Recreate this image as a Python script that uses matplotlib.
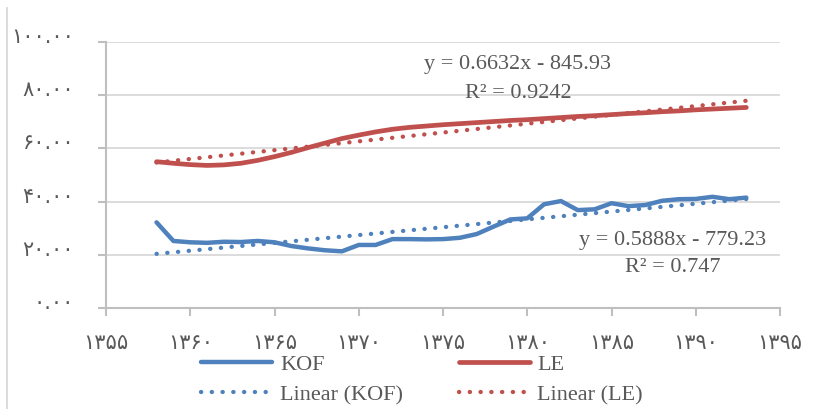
import matplotlib
matplotlib.use('Agg')
import matplotlib.pyplot as plt
from matplotlib.transforms import ScaledTranslation
from matplotlib.lines import Line2D
import numpy as np

# data
years = list(range(1358, 1394))
kof = [32.2, 25.2, 24.7, 24.5, 24.9, 24.8, 25.2, 24.7, 23.3, 22.4,
       21.7, 21.3, 23.7, 23.7, 25.9, 25.9, 25.8, 25.9, 26.4, 27.8,
       30.6, 33.3, 33.7, 39.0, 40.2, 36.8, 37.1, 39.4, 38.3, 38.7,
       40.3, 40.9, 41.0, 41.8, 40.9, 41.5]
le = [55.0, 54.4, 53.9, 53.6, 53.8, 54.4, 55.5, 56.9, 58.5, 60.3,
      62.0, 63.7, 65.0, 66.2, 67.2, 67.9, 68.4, 68.9, 69.3, 69.7,
      70.1, 70.5, 70.8, 71.2, 71.6, 72.0, 72.3, 72.7, 73.1, 73.4,
      73.8, 74.1, 74.5, 74.8, 75.1, 75.4]
kof_trend = [0.5888, -779.23]
le_trend = [0.6632, -845.93]

x_ticks = [1355, 1360, 1365, 1370, 1375, 1380, 1385, 1390, 1395]
x_tick_labels = ['۱۳۵۵', '۱۳۶۰', '۱۳۶۵', '۱۳۷۰', '۱۳۷۵', '۱۳۸۰', '۱۳۸۵', '۱۳۹۰', '۱۳۹۵']
y_ticks = [0, 20, 40, 60, 80, 100]
y_tick_labels = ['۰.۰۰', '۲۰.۰۰', '۴۰.۰۰', '۶۰.۰۰', '۸۰.۰۰', '۱۰۰.۰۰']

blue = '#4F81BD'
red = '#C0504D'
txt = '#595959'
dots = (0, (0.05, 2.45))

fig = plt.figure(figsize=(8.24, 4.09), dpi=100)
ax = fig.add_axes([106 / 824, 101 / 409, 674 / 824, 266 / 409])

yrs = np.array(years)
ax.plot(years, kof, color=blue, lw=3.2, solid_capstyle='round', label='KOF', zorder=4)
ax.plot(years, np.polyval(kof_trend, yrs), color=blue, lw=3.1, ls=dots,
        dash_capstyle='round', label='Linear (KOF)', zorder=3)
ax.plot(years, le, color=red, lw=3.4, solid_capstyle='round', label='LE', zorder=4)
ax.plot(years, np.polyval(le_trend, yrs), color=red, lw=3.1, ls=dots,
        dash_capstyle='round', label='Linear (LE)', zorder=3)

ax.set_xlim(1355, 1395)
ax.set_ylim(0, 100)
ax.set_xticks(x_ticks)
ax.set_xticklabels(x_tick_labels, fontsize=15, color=txt, family='DejaVu Sans')
ax.set_yticks(y_ticks)
ax.set_yticklabels(y_tick_labels, fontsize=15, color=txt, family='DejaVu Sans')
ax.grid(axis='y', color='#d9d9d9', lw=1.3, zorder=0)
ax.set_axisbelow(True)
for s in ['top', 'right']:
    ax.spines[s].set_visible(False)
for s in ['left', 'bottom']:
    ax.spines[s].set_color('#bfbfbf')
    ax.spines[s].set_linewidth(1.5)
ax.tick_params(axis='x', direction='out', length=6, width=1.5, color='#bfbfbf', pad=12)
ax.tick_params(axis='y', direction='out', length=6, width=1.5, color='#bfbfbf', pad=17)

off = ScaledTranslation(0, 5 / 72, fig.dpi_scale_trans)
for t in ax.yaxis.get_major_ticks():
    t.label1.set_transform(t.label1.get_transform() + off)

ax.annotate('y = 0.6632x - 845.93\nR² = 0.9242', xy=(518 / 824, 1 - 79 / 409),
            xycoords='figure fraction', ha='center', va='center', fontsize=16,
            family='Liberation Serif', color=txt, linespacing=1.75)
ax.annotate('y = 0.5888x - 779.23\nR² = 0.747', xy=(673 / 824, 1 - 254 / 409),
            xycoords='figure fraction', ha='center', va='center', fontsize=16,
            family='Liberation Serif', color=txt, linespacing=1.6)

fig.legend(loc='upper left', bbox_to_anchor=(190 / 824, 1 - 343 / 409), ncol=2,
           frameon=False, borderpad=0, handlelength=3.2, handletextpad=0.35,
           columnspacing=2.5, labelspacing=0.45,
           prop={'family': 'Liberation Serif', 'size': 16}, labelcolor=txt)

fig.add_artist(Line2D([7 / 824, 7 / 824], [0, 1 - 8 / 409], transform=fig.transFigure,
                      color='#d9d9d9', lw=1.3))

fig.savefig('out.png', dpi=100)
